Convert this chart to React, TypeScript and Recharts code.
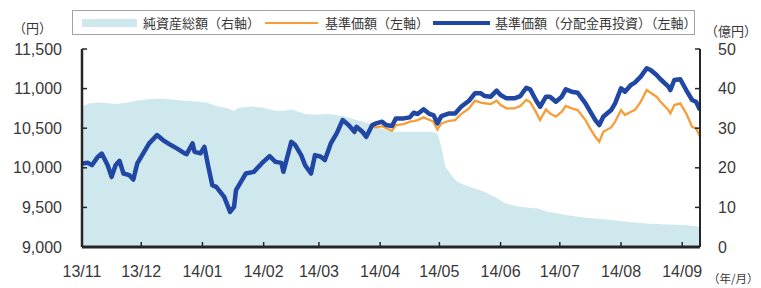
import React from 'react';
import { ComposedChart, Area, Line, XAxis, YAxis } from 'recharts';

// x values are days counted from 2013/11/01
const lineDays = [
  0, 3, 5, 8, 10, 13, 15, 17, 19, 21, 24, 26, 28, 31, 34, 38, 41, 45, 48, 52, 53, 56, 57, 60, 62, 64, 66, 68, 70, 72,
  75, 77, 78, 81, 83, 87, 91, 95, 98, 101, 102, 106, 108, 111, 113, 116, 118, 121, 123, 126, 129, 132, 135, 138, 139,
  142, 144, 147, 149, 152, 154, 157, 159, 163, 166, 168, 170, 173, 176, 178, 180, 182, 186, 189, 192, 196, 199, 202,
  204, 207, 210, 212, 215, 219, 222, 225, 227, 230, 232, 235, 237, 240, 243, 245, 248, 251, 255, 257, 260, 262, 264,
  268, 270, 273, 275, 278, 280, 283, 286, 288, 291, 293, 297, 298, 300, 303, 306, 309, 311, 313,
];

// 基準価額（分配金再投資）
const navReinvestValues = [
  10055, 10063, 10033, 10138, 10180, 10033, 9886, 10033, 10088, 9928, 9907, 9852, 10055, 10182, 10308, 10413, 10350,
  10287, 10245, 10182, 10173, 10308, 10202, 10182, 10265, 10012, 9780, 9759, 9696, 9632, 9443, 9506, 9717, 9844, 9928,
  9949, 10055, 10147, 10075, 10062, 9949, 10328, 10287, 10160, 10033, 9928, 10160, 10139, 10097, 10308, 10434, 10603,
  10540, 10455, 10518, 10455, 10392, 10540, 10561, 10582, 10540, 10527, 10624, 10624, 10637, 10695, 10679, 10738, 10679,
  10666, 10561, 10653, 10687, 10687, 10771, 10847, 10940, 10940, 10906, 10898, 10974, 10919, 10877, 10877, 10906, 11010,
  10990, 10850, 10771, 10898, 10898, 10834, 10898, 10991, 10961, 10948, 10814, 10729, 10603, 10540, 10645, 10729, 10814,
  11004, 10961, 11046, 11075, 11151, 11257, 11235, 11172, 11118, 11024, 10982, 11109, 11118, 10982, 10856, 10834, 10729,
];

// 基準価額
const navValues = [
  10055, 10063, 10033, 10138, 10180, 10033, 9886, 10033, 10088, 9928, 9907, 9852, 10055, 10182, 10308, 10413, 10350,
  10287, 10245, 10182, 10173, 10308, 10202, 10182, 10265, 10012, 9780, 9759, 9696, 9632, 9443, 9506, 9717, 9844, 9928,
  9949, 10055, 10147, 10075, 10062, 9949, 10328, 10287, 10160, 10033, 9928, 10160, 10139, 10097, 10308, 10430, 10595,
  10530, 10440, 10500, 10440, 10380, 10520, 10510, 10525, 10500, 10467, 10540, 10552, 10582, 10590, 10603, 10637, 10603,
  10582, 10485, 10561, 10594, 10603, 10679, 10751, 10847, 10822, 10815, 10805, 10847, 10792, 10751, 10751, 10780, 10856,
  10830, 10700, 10603, 10738, 10687, 10645, 10708, 10780, 10751, 10729, 10603, 10510, 10392, 10328, 10455, 10510, 10582,
  10729, 10666, 10708, 10729, 10834, 10982, 10948, 10898, 10834, 10729, 10687, 10792, 10814, 10687, 10518, 10498, 10392,
];

const assetDays = [
  0, 4, 8, 13, 18, 23, 28, 34, 39, 47, 53, 60, 63, 68, 73, 77, 79, 86, 91, 98, 103, 106, 113, 118, 125, 132, 139, 145,
  152, 157, 177, 180, 182, 184, 187, 190, 194, 199, 204, 209, 214, 220, 225, 231, 236, 246, 256, 267, 277, 287, 297,
  307, 313,
];

// 純資産総額（億円）
const assetValues = [
  35.5, 36.3, 36.5, 36.3, 36.1, 36.5, 37.0, 37.3, 37.5, 37.2, 36.9, 36.7, 36.5, 35.6, 35.1, 34.4, 35.1, 35.5, 35.2, 34.4,
  34.4, 34.8, 33.6, 33.4, 33.6, 33.1, 32.1, 31.3, 29.8, 29.1, 29.1, 28.7, 25.3, 20.3, 18.2, 16.5, 15.6, 14.8, 13.9, 12.7,
  11.1, 10.3, 10.0, 9.7, 8.9, 8.0, 7.3, 6.9, 6.3, 5.9, 5.7, 5.5, 5.1,
];

const monthTicks = [0, 30, 61, 92, 120, 151, 181, 212, 242, 273, 304];
const monthLabels = ['13/11', '13/12', '14/01', '14/02', '14/03', '14/04', '14/05', '14/06', '14/07', '14/08', '14/09'];
const leftTicks = [9000, 9500, 10000, 10500, 11000, 11500];
const rightTicks = [0, 10, 20, 30, 40, 50];

const rows = new Map<number, any>();
lineDays.forEach((d, i) => rows.set(d, { day: d, nav: navValues[i], navReinvest: navReinvestValues[i] }));
assetDays.forEach((d, i) => rows.set(d, { ...(rows.get(d) ?? { day: d }), assets: assetValues[i] }));
const chartData = [...rows.values()].sort((a, b) => a.day - b.day);

const AREA = '#cfe8ee';
const ORANGE = '#f69d38';
const BLUE = '#1f47a3';
const AXIS = '#262626';
const TEXT = '#383838';
const FONT = "'Liberation Sans', Arial, sans-serif";
const JP = "'Noto Sans CJK JP', sans-serif";

const LeftTick = (props: any) => {
  const { x, y, payload } = props;
  return (
    <g>
      <line x1={x + 20} x2={x + 25} y1={y} y2={y} stroke={AXIS} strokeWidth={1.5} />
      <text x={x} y={y} dy={5.5} textAnchor="end" fontSize={16} fontFamily={FONT} fill={TEXT}>
        {payload.value.toLocaleString('en-US')}
      </text>
    </g>
  );
};

const RightTick = (props: any) => {
  const { x, y, payload } = props;
  return (
    <g>
      <line x1={x - 18} x2={x - 23} y1={y} y2={y} stroke={AXIS} strokeWidth={1.5} />
      <text x={x} y={y} dy={5.5} textAnchor="start" fontSize={16} fontFamily={FONT} fill={TEXT}>
        {payload.value}
      </text>
    </g>
  );
};

const BottomTick = (props: any) => {
  const { x, y, payload } = props;
  const idx = monthTicks.indexOf(payload.value);
  return (
    <g>
      <line x1={x} x2={x} y1={y - 14} y2={y - 19} stroke={AXIS} strokeWidth={1.5} />
      <text x={x} y={y} dy={15.5} textAnchor="middle" fontSize={16} fontFamily={FONT} fill={TEXT}>
        {monthLabels[idx]}
      </text>
    </g>
  );
};

const legendText: React.CSSProperties = {
  position: 'absolute',
  top: 14,
  fontSize: 13,
  fontFamily: JP,
  color: TEXT,
  lineHeight: '17px',
  whiteSpace: 'nowrap',
};

export default function App() {
  return (
    <div style={{ position: 'absolute', left: 0, top: 0, width: 761, height: 288, background: '#fff' }}>
      <ComposedChart width={761} height={288} data={chartData} margin={{ top: 49, right: 0, bottom: 0, left: 0 }}>
        <XAxis
          dataKey="day"
          type="number"
          domain={[0, 313]}
          ticks={monthTicks}
          interval={0}
          allowDataOverflow
          height={41}
          tickSize={0}
          tickMargin={14}
          tickLine={false}
          tick={<BottomTick />}
          axisLine={{ stroke: AXIS, strokeWidth: 3 }}
        />
        <YAxis
          yAxisId="left"
          orientation="left"
          domain={[9000, 11500]}
          ticks={leftTicks}
          interval={0}
          allowDataOverflow
          width={82}
          tickSize={0}
          tickMargin={20}
          tickLine={false}
          tick={<LeftTick />}
          axisLine={{ stroke: AXIS, strokeWidth: 2.5 }}
        />
        <YAxis
          yAxisId="right"
          orientation="right"
          domain={[0, 50]}
          ticks={rightTicks}
          interval={0}
          allowDataOverflow
          width={61}
          tickSize={0}
          tickMargin={18}
          tickLine={false}
          tick={<RightTick />}
          axisLine={{ stroke: AXIS, strokeWidth: 2 }}
        />
        <Area
          yAxisId="right"
          dataKey="assets"
          type="linear"
          stroke="none"
          fill={AREA}
          fillOpacity={1}
          connectNulls
          isAnimationActive={false}
        />
        <Line
          yAxisId="left"
          dataKey="nav"
          type="linear"
          stroke={ORANGE}
          strokeWidth={2.3}
          dot={false}
          connectNulls
          isAnimationActive={false}
        />
        <Line
          yAxisId="left"
          dataKey="navReinvest"
          type="linear"
          stroke={BLUE}
          strokeWidth={4.5}
          strokeLinejoin="round"
          dot={false}
          connectNulls
          isAnimationActive={false}
        />
      </ComposedChart>

      <div style={{ position: 'absolute', left: 13, top: 18, fontSize: 13, fontFamily: JP, color: TEXT }}>（円）</div>
      <div style={{ position: 'absolute', left: 705, top: 21, fontSize: 13, fontFamily: JP, color: TEXT }}>（億円）</div>
      <div style={{ position: 'absolute', left: 708, top: 270, fontSize: 11.5, fontFamily: JP, color: TEXT }}>（年/月）</div>

      <div
        style={{
          position: 'absolute',
          left: 72,
          top: 10,
          width: 621,
          height: 23,
          border: '1.5px solid #a3a3a3',
        }}
      />
      <div style={{ position: 'absolute', left: 82, top: 19, width: 55, height: 8, background: AREA }} />
      <div style={{ ...legendText, left: 143 }}>純資産総額（右軸）</div>
      <div style={{ position: 'absolute', left: 265, top: 22, width: 53, height: 2, background: ORANGE }} />
      <div style={{ ...legendText, left: 325 }}>基準価額（左軸）</div>
      <div style={{ position: 'absolute', left: 433, top: 21, width: 57, height: 4, background: BLUE }} />
      <div style={{ ...legendText, left: 495 }}>基準価額（分配金再投資）（左軸）</div>
    </div>
  );
}
